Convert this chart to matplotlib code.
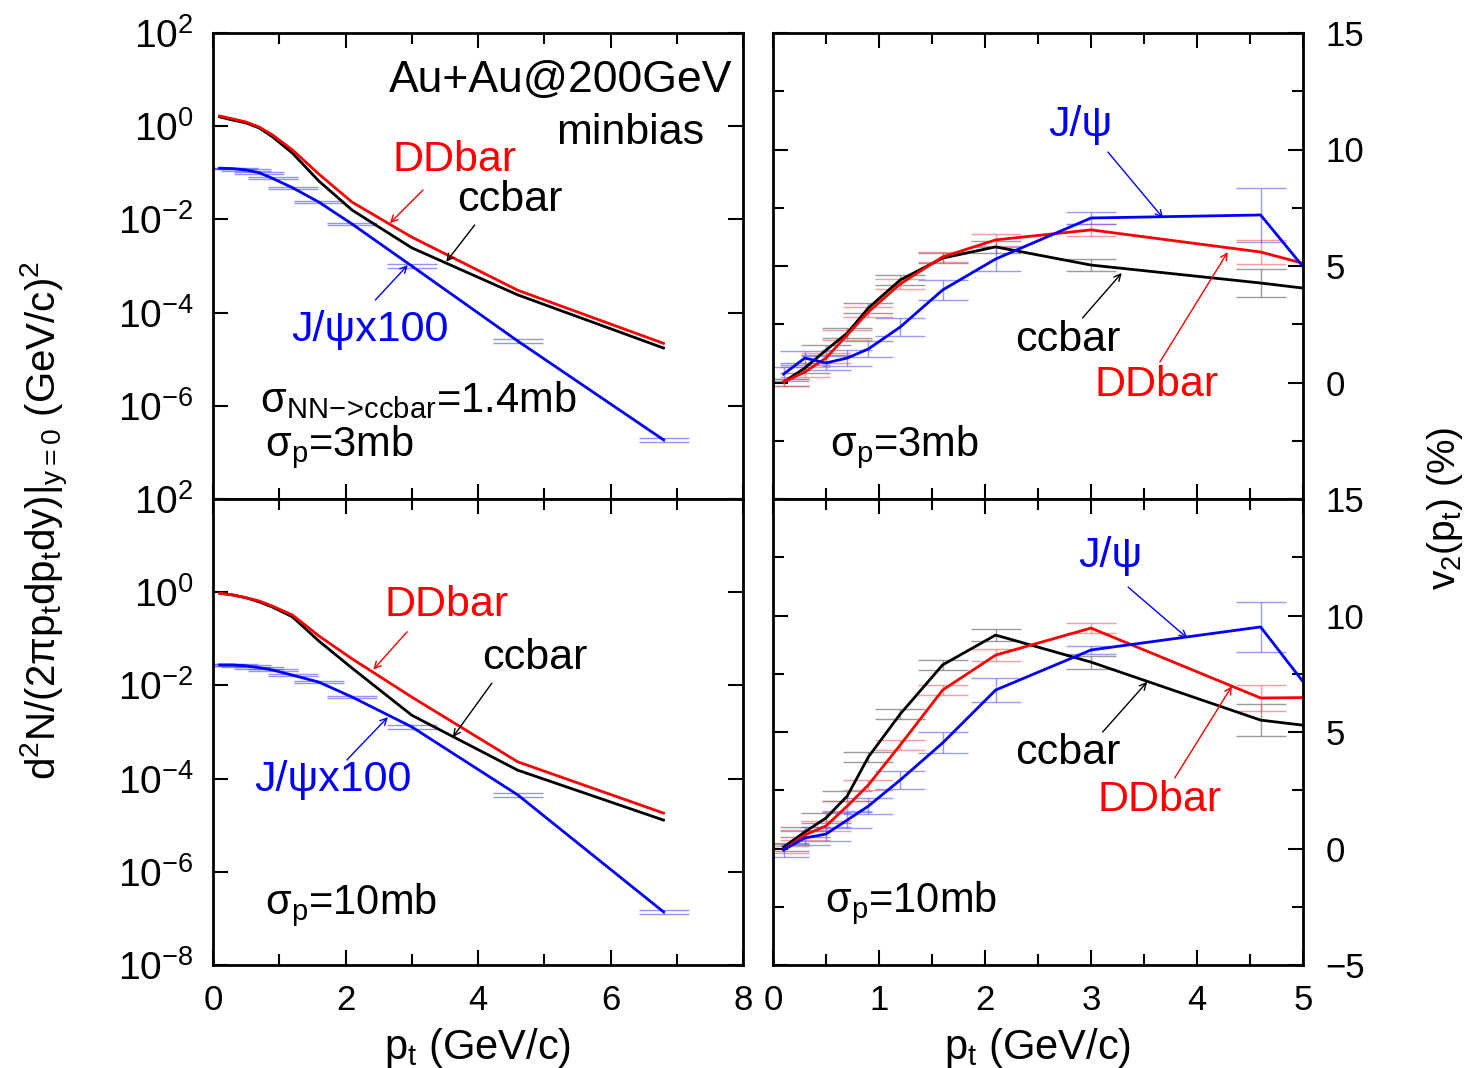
import numpy as np
import matplotlib
matplotlib.use('Agg')
import matplotlib.pyplot as plt
from matplotlib.ticker import MultipleLocator, FixedLocator, NullLocator

plt.rcParams['font.family'] = ['Liberation Sans', 'DejaVu Sans']
plt.rcParams['mathtext.fontset'] = 'custom'
plt.rcParams['mathtext.rm'] = 'Liberation Sans'
plt.rcParams['mathtext.it'] = 'Liberation Sans'
plt.rcParams['mathtext.default'] = 'rm'

# transverse momentum bins (GeV/c)
pt = [0.1, 0.3, 0.5, 0.7, 0.9, 1.2, 1.6, 2.1, 3.0, 4.6, 6.8]

# log10 of d2N/(2pi pt dpt dy), sigma_p = 3 mb
dd_3mb_log = [0.22, 0.155, 0.09, -0.02, -0.19, -0.51, -1.03, -1.63, -2.38, -3.52, -4.66]
cc_3mb_log = [0.20, 0.13, 0.07, -0.04, -0.23, -0.58, -1.18, -1.80, -2.61, -3.62, -4.76]
jpsi_3mb_log = [-0.90, -0.91, -0.94, -1.00, -1.12, -1.32, -1.63, -2.10, -3.00, -4.61, -6.73]

# sigma_p = 10 mb
dd_10mb_log = [-0.02, -0.06, -0.12, -0.19, -0.30, -0.49, -0.94, -1.43, -2.25, -3.64, -4.74]
cc_10mb_log = [-0.02, -0.06, -0.12, -0.21, -0.32, -0.53, -1.05, -1.63, -2.64, -3.82, -4.89]
jpsi_10mb_log = [-1.56, -1.56, -1.58, -1.62, -1.67, -1.78, -1.93, -2.25, -2.89, -4.35, -6.86]

# relative statistical errors of the J/psi spectra
jpsi_rel_err = [0.03, 0.03, 0.04, 0.04, 0.05, 0.05, 0.06, 0.06, 0.08, 0.08, 0.10]

# elliptic flow v2 (%), sigma_p = 3 mb
v2_dd_3mb = [0.02, 0.45, 1.05, 2.04, 3.03, 4.23, 5.39, 6.12, 6.55, 5.60, 2.94]
v2_cc_3mb = [0.02, 0.62, 1.39, 2.12, 3.20, 4.40, 5.34, 5.82, 5.04, 4.27, 3.07]
v2_jpsi_3mb = [0.36, 1.05, 0.84, 1.05, 1.44, 2.38, 3.97, 5.30, 7.06, 7.19, -5.0]
err_dd_3mb = [0.15, 0.2, 0.2, 0.2, 0.2, 0.2, 0.2, 0.25, 0.25, 0.5, 0.8]
err_cc_3mb = [0.15, 0.2, 0.2, 0.2, 0.2, 0.2, 0.2, 0.25, 0.25, 0.6, 0.8]
err_jpsi_3mb = [0.3, 0.3, 0.3, 0.35, 0.35, 0.4, 0.45, 0.5, 0.25, 1.15, 1.5]

# sigma_p = 10 mb
v2_dd_10mb = [-0.06, 0.58, 0.97, 1.82, 2.73, 4.44, 6.80, 8.30, 9.46, 6.46, 6.55]
v2_cc_10mb = [0.06, 0.71, 1.31, 2.25, 3.93, 5.77, 7.88, 9.16, 8.00, 5.51, 4.31]
v2_jpsi_10mb = [-0.06, 0.45, 0.62, 1.22, 1.82, 2.94, 4.53, 6.80, 8.52, 9.51, -3.41]
err_dd_10mb = [0.15, 0.2, 0.2, 0.2, 0.2, 0.2, 0.2, 0.25, 0.2, 0.54, 0.8]
err_cc_10mb = [0.15, 0.2, 0.2, 0.2, 0.2, 0.2, 0.2, 0.25, 0.28, 0.69, 0.8]
err_jpsi_10mb = [0.3, 0.3, 0.3, 0.35, 0.35, 0.4, 0.45, 0.5, 0.17, 1.07, 1.5]

log_ticks = [1e-8, 1e-6, 1e-4, 1e-2, 1e0, 1e2]
log_labels = [r'$10^{-8}$', r'$10^{-6}$', r'$10^{-4}$', r'$10^{-2}$', r'$10^{0}$', r'$10^{2}$']

fig = plt.figure(figsize=(14.76, 10.68), dpi=100)
W, H = 1476, 1068
ax_tl = fig.add_axes([213 / W, 1 - 499 / H, 530 / W, 466 / H])
ax_bl = fig.add_axes([213 / W, 1 - 965 / H, 530 / W, 466 / H])
ax_tr = fig.add_axes([773 / W, 1 - 499 / H, 530 / W, 466 / H])
ax_br = fig.add_axes([773 / W, 1 - 965 / H, 530 / W, 466 / H])

TXT = 31


def style(ax):
    for s in ax.spines.values():
        s.set_linewidth(2)
    ax.tick_params(which='both', direction='in', top=True, right=True, width=1.5)
    ax.tick_params(which='major', length=11, labelsize=25)
    ax.tick_params(which='minor', length=8)


def arrow(ax, head, tail, color):
    ax.annotate('', xy=head, xytext=tail,
                arrowprops=dict(arrowstyle='->', color=color, lw=1, mutation_scale=12,
                                shrinkA=0, shrinkB=0))


def spectra_panel(ax, dd_log, cc_log, jpsi_log, top):
    dd = 10 ** np.array(dd_log)
    cc = 10 ** np.array(cc_log)
    jpsi = 10 ** np.array(jpsi_log)
    ax.set_yscale('log')
    ax.errorbar(pt, jpsi, yerr=jpsi * np.array(jpsi_rel_err), fmt='none',
                ecolor=(0.3, 0.3, 1.0, 0.6), elinewidth=1, capsize=18, capthick=1)
    ax.plot(pt, cc, color='black', lw=2)
    ax.plot(pt, dd, color='red', lw=2)
    ax.plot(pt, jpsi, color='blue', lw=2)
    ax.set_xlim(0, 8)
    ax.set_ylim(1e-8, 1e2)
    ax.xaxis.set_major_locator(MultipleLocator(2))
    ax.xaxis.set_minor_locator(MultipleLocator(1))
    ax.yaxis.set_major_locator(FixedLocator(log_ticks))
    ax.yaxis.set_minor_locator(NullLocator())
    labels = list(log_labels)
    if top:
        labels[0] = ''
    ax.set_yticklabels(labels)
    style(ax)
    ax.tick_params(axis='y', pad=14, labelsize=28)
    ax.tick_params(axis='x', pad=14)


def v2_panel(ax, dd, cc, jpsi, e_dd, e_cc, e_jpsi, top):
    ax.errorbar(pt, cc, yerr=e_cc, fmt='none', ecolor=(0.45, 0.45, 0.45, 0.7),
                elinewidth=1, capsize=18, capthick=1)
    ax.errorbar(pt, dd, yerr=e_dd, fmt='none', ecolor=(1.0, 0.35, 0.35, 0.6),
                elinewidth=1, capsize=18, capthick=1)
    ax.errorbar(pt, jpsi, yerr=e_jpsi, fmt='none', ecolor=(0.35, 0.35, 1.0, 0.6),
                elinewidth=1, capsize=18, capthick=1)
    ax.plot(pt, cc, color='black', lw=2)
    ax.plot(pt, dd, color='red', lw=2)
    ax.plot(pt, jpsi, color='blue', lw=2)
    ax.set_xlim(0, 5)
    ax.set_ylim(-5, 15)
    ax.xaxis.set_major_locator(MultipleLocator(1))
    ax.xaxis.set_minor_locator(MultipleLocator(0.5))
    ax.yaxis.set_major_locator(MultipleLocator(5))
    ax.yaxis.set_minor_locator(MultipleLocator(2.5))
    style(ax)
    ax.tick_params(axis='y', labelleft=False, labelright=True, pad=16, labelsize=25)
    ax.tick_params(axis='x', pad=14)
    ax.set_yticks([-5, 0, 5, 10, 15])
    ax.set_yticklabels(['' if top else '\u22125', '0', '5', '10', '15'])


spectra_panel(ax_tl, dd_3mb_log, cc_3mb_log, jpsi_3mb_log, True)
spectra_panel(ax_bl, dd_10mb_log, cc_10mb_log, jpsi_10mb_log, False)
v2_panel(ax_tr, v2_dd_3mb, v2_cc_3mb, v2_jpsi_3mb, err_dd_3mb, err_cc_3mb, err_jpsi_3mb, True)
v2_panel(ax_br, v2_dd_10mb, v2_cc_10mb, v2_jpsi_10mb, err_dd_10mb, err_cc_10mb, err_jpsi_10mb, False)

for ax in (ax_tl, ax_tr):
    ax.tick_params(axis='x', labelbottom=False)

# spectra, sigma_p = 3 mb
ax_tl.text(5.24, 10 ** 0.99, 'Au+Au@200GeV', fontsize=32, ha='center', va='center')
ax_tl.text(6.29, 10 ** -0.15, 'minbias', fontsize=31, ha='center', va='center')
ax_tl.text(3.65, 10 ** -0.73, 'DDbar', color='red', fontsize=TXT, ha='center', va='center')
arrow(ax_tl, (2.67, 10 ** -2.08), (3.17, 10 ** -1.37), 'red')
ax_tl.text(4.48, 10 ** -1.58, 'ccbar', color='black', fontsize=TXT, ha='center', va='center')
arrow(ax_tl, (3.52, 10 ** -2.91), (3.95, 10 ** -2.12), 'black')
ax_tl.text(2.37, 10 ** -4.37, 'J/\u03c8x100', color='blue', fontsize=TXT, ha='center', va='center')
arrow(ax_tl, (2.94, 10 ** -2.98), (2.45, 10 ** -3.73), 'blue')
ax_tl.text(0.71, 10 ** -5.88, '\u03c3$_\\mathrm{NN{\u2212}\\!{>}\\!ccbar}$=1.4mb',
           fontsize=30, ha='left', va='center')
ax_tl.text(0.78, 10 ** -6.88, '\u03c3$_\\mathrm{p}$=3mb', fontsize=30, ha='left', va='center')

# spectra, sigma_p = 10 mb
ax_bl.text(3.53, 10 ** -0.27, 'DDbar', color='red', fontsize=TXT, ha='center', va='center')
arrow(ax_bl, (2.42, 10 ** -1.66), (2.93, 10 ** -0.85), 'red')
ax_bl.text(4.86, 10 ** -1.41, 'ccbar', color='black', fontsize=TXT, ha='center', va='center')
arrow(ax_bl, (3.62, 10 ** -3.11), (4.21, 10 ** -1.95), 'black')
ax_bl.text(1.81, 10 ** -4.03, 'J/\u03c8x100', color='blue', fontsize=TXT, ha='center', va='center')
arrow(ax_bl, (2.64, 10 ** -2.68), (2.02, 10 ** -3.6), 'blue')
ax_bl.text(0.78, 10 ** -6.71, '\u03c3$_\\mathrm{p}$=10mb', fontsize=30, ha='left', va='center')

# v2, sigma_p = 3 mb
ax_tr.text(2.90, 11.05, 'J/\u03c8', color='blue', fontsize=TXT, ha='center', va='center')
arrow(ax_tr, (3.68, 7.06), (3.16, 9.89), 'blue')
ax_tr.text(2.78, 1.82, 'ccbar', color='black', fontsize=TXT, ha='center', va='center')
arrow(ax_tr, (3.29, 4.70), (2.92, 2.77), 'black')
ax_tr.text(3.62, -0.11, 'DDbar', color='red', fontsize=TXT, ha='center', va='center')
arrow(ax_tr, (4.29, 5.60), (3.65, 0.88), 'red')
ax_tr.text(0.54, -2.77, '\u03c3$_\\mathrm{p}$=3mb', fontsize=30, ha='left', va='center')

# v2, sigma_p = 10 mb
ax_br.text(3.18, 12.55, 'J/\u03c8', color='blue', fontsize=TXT, ha='center', va='center')
arrow(ax_br, (3.91, 9.03), (3.35, 11.22), 'blue')
ax_br.text(2.78, 4.10, 'ccbar', color='black', fontsize=TXT, ha='center', va='center')
arrow(ax_br, (3.53, 7.15), (3.11, 5.0), 'black')
ax_br.text(3.65, 2.08, 'DDbar', color='red', fontsize=TXT, ha='center', va='center')
arrow(ax_br, (4.33, 6.97), (3.79, 3.03), 'red')
ax_br.text(0.49, -2.34, '\u03c3$_\\mathrm{p}$=10mb', fontsize=30, ha='left', va='center')

ax_bl.set_xlabel('p$_\\mathrm{t}$ (GeV/c)', fontsize=30, labelpad=6)
ax_br.set_xlabel('p$_\\mathrm{t}$ (GeV/c)', fontsize=30, labelpad=6)

fig.text(45 / W, 1 - 520 / H,
         'd$^2$N/(2\u03c0p$_\\mathrm{t}$dp$_\\mathrm{t}$dy)|$_\\mathrm{y=0}$ (GeV/c)$^2$',
         rotation=90, fontsize=29, ha='center', va='center')
fig.text(1445 / W, 1 - 508 / H, 'v$_2$(p$_\\mathrm{t}$) (%)',
         rotation=90, fontsize=28, ha='center', va='center')

fig.savefig('out.png', dpi=100)
